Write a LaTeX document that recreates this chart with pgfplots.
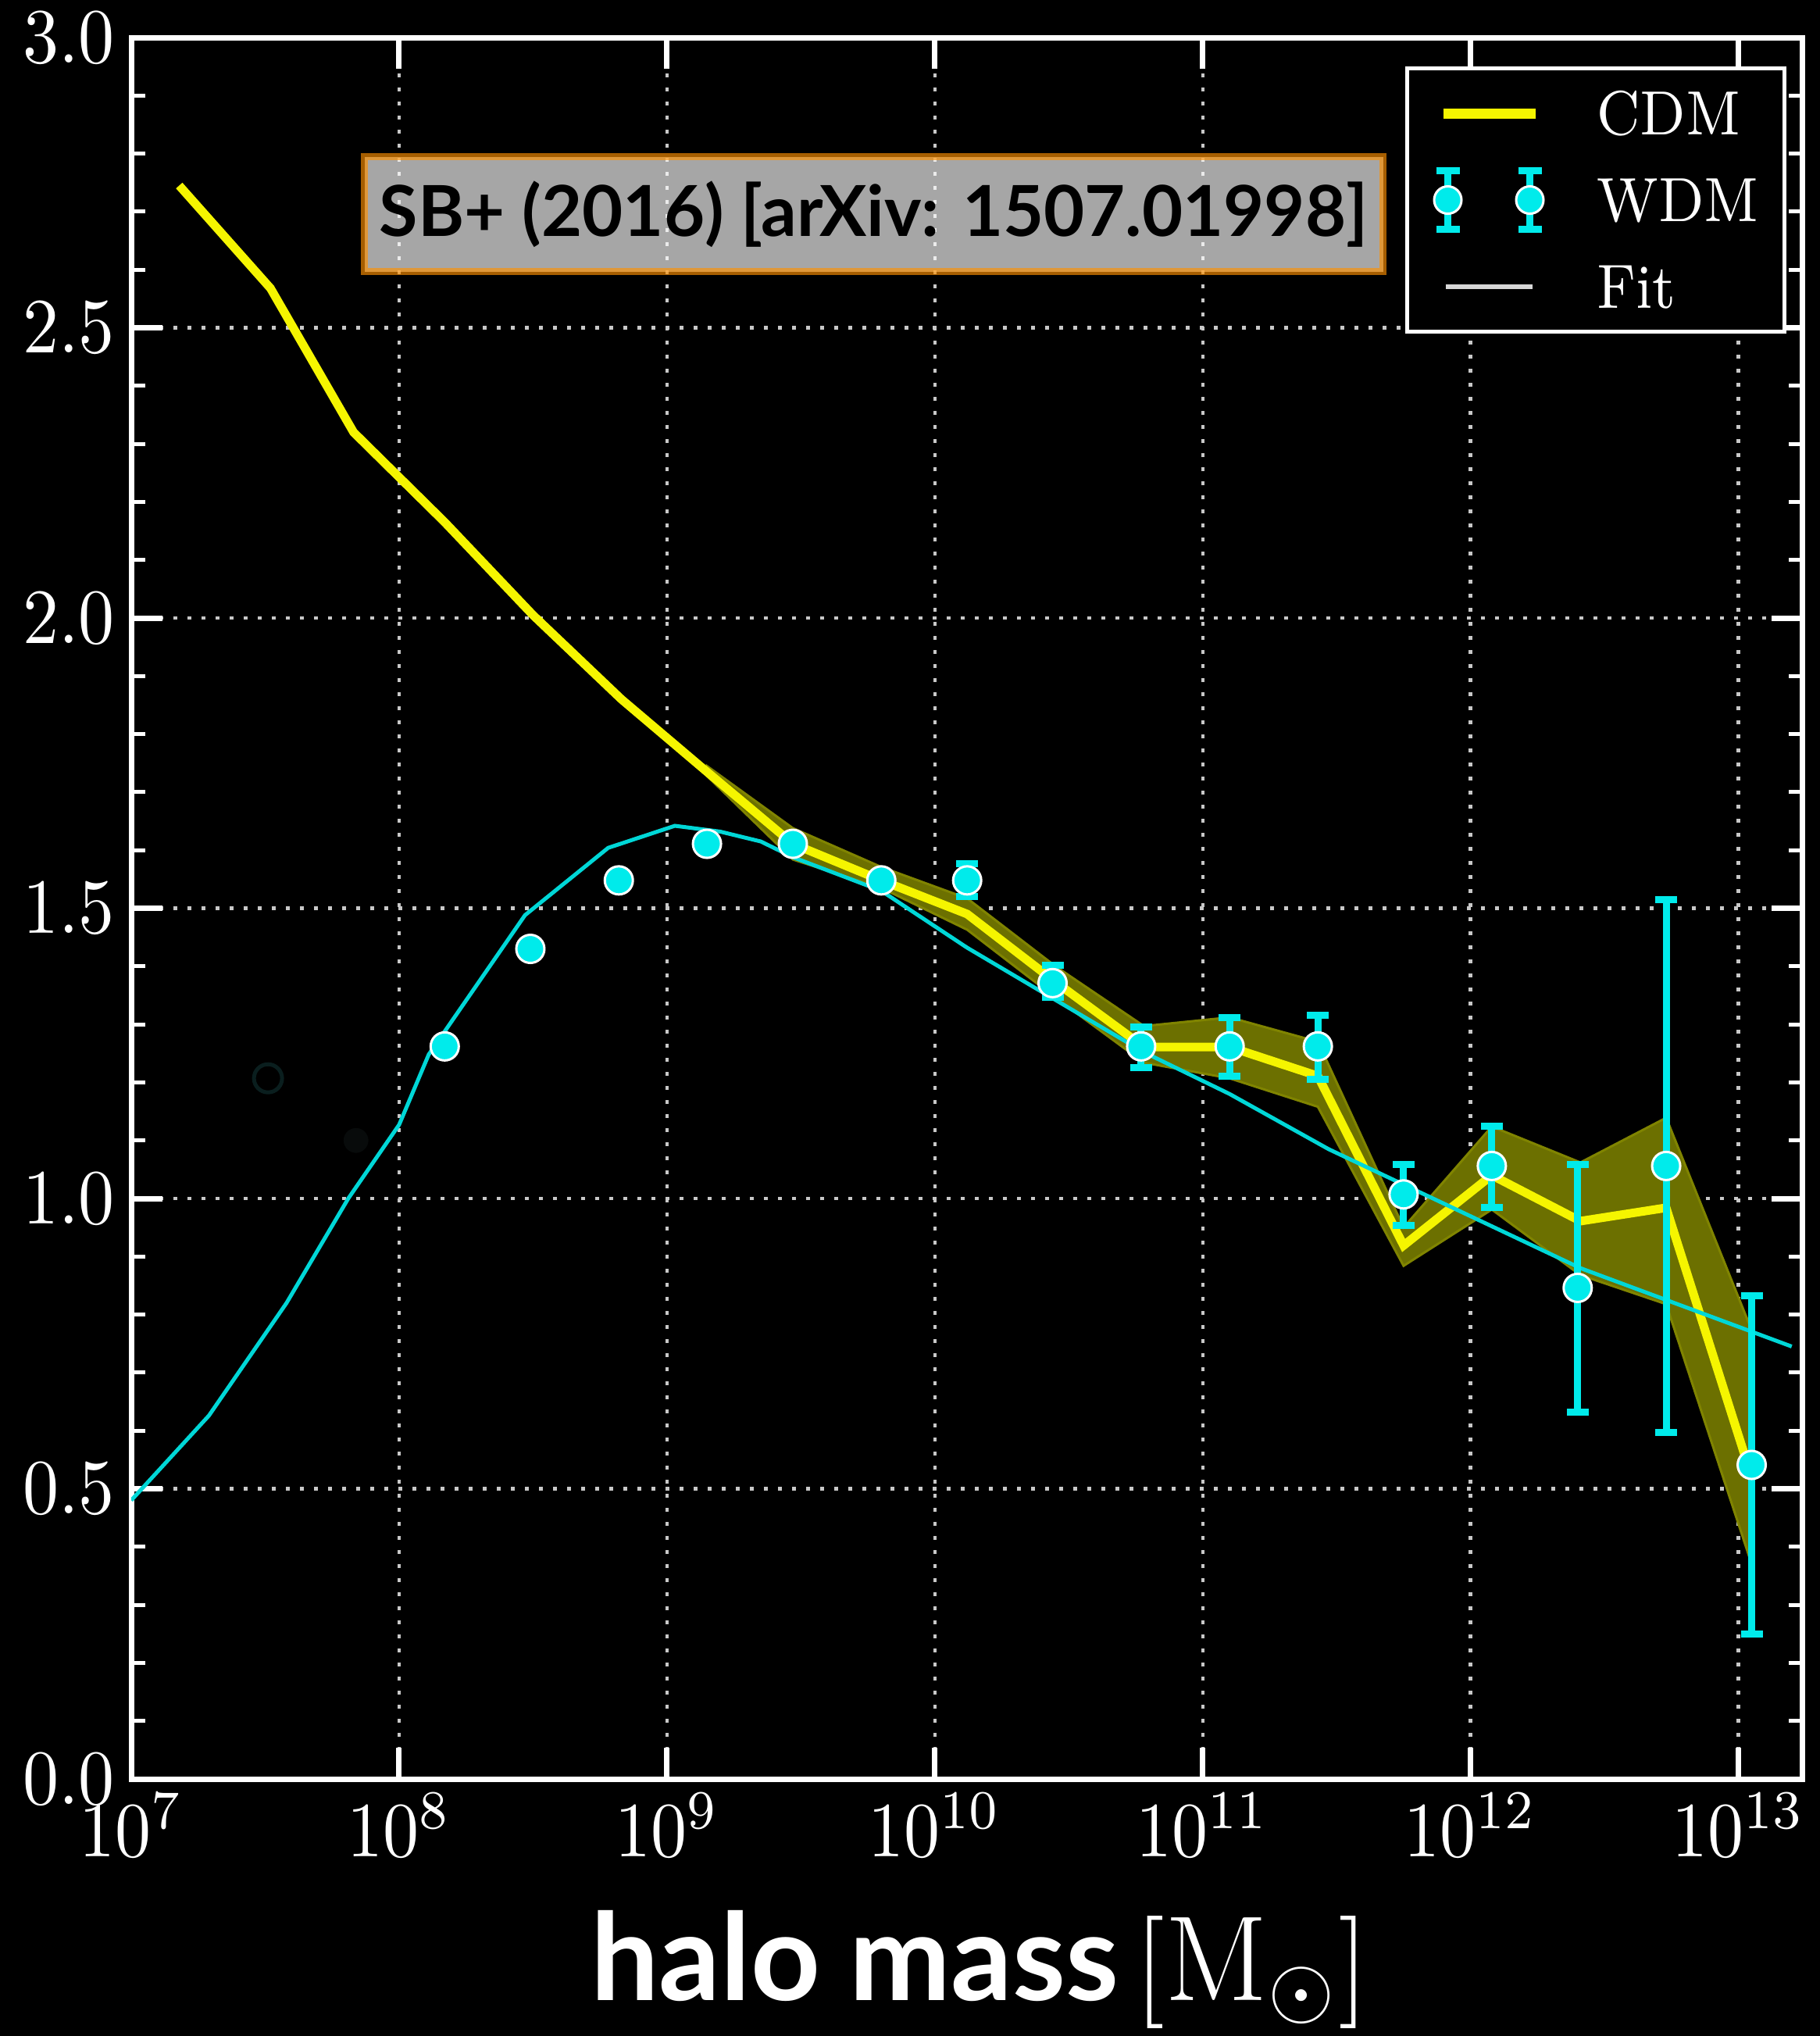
\documentclass[border=0pt]{standalone}
\usepackage{graphicx}
\usepackage{pgfplots}
\pgfplotsset{compat=1.18}
\usepackage{fontspec}
\newfontfamily\latofont{Lato}

\definecolor{cdmyellow}{RGB}{245,245,0}
\definecolor{bandolive}{RGB}{108,112,0}
\definecolor{bandedge}{RGB}{128,132,0}
\definecolor{wdmcyan}{RGB}{0,235,235}
\definecolor{fitcyan}{RGB}{0,215,215}
\definecolor{boxorange}{RGB}{255,145,0}
\definecolor{gridgray}{RGB}{200,200,200}
\definecolor{fitgray}{RGB}{215,215,215}
\definecolor{faintring}{RGB}{10,30,30}
\definecolor{faintdot}{RGB}{8,11,11}

% slightly narrowed lettering for ticks and legend
\newcommand{\narrow}[1]{\scalebox{0.92}[1]{#1}}

\begin{document}
\begin{tikzpicture}
\fill[black] (-16.8pt,-32.9pt) rectangle (216.2pt,227.7pt);
\useasboundingbox (-16.8pt,-32.9pt) rectangle (216.2pt,227.7pt);
\begin{axis}[
  scale only axis,
  width=214pt, height=222.9pt,
  xmode=log, log basis x=10,
  xmin=1e7, xmax=1.738e13,
  ymin=0, ymax=3,
  xtick={1e7,1e8,1e9,1e10,1e11,1e12,1e13},
  ytick={0,0.5,...,3.0},
  minor y tick num=4,
  grid=major,
  major grid style={gridgray, line width=0.45pt, dash pattern=on 0.5pt off 1.3pt},
  axis line style={white, line width=0.7pt},
  major tick style={white, line width=0.7pt},
  minor tick style={white, line width=0.5pt},
  major tick length=4pt,
  minor tick length=1.8pt,
  tick label style={text=white, font=\fontsize{9.6}{11}\selectfont},
  yticklabel style={/pgf/number format/.cd, fixed, fixed zerofill, precision=1, /tikz/.cd, xshift=1.4pt},
  yticklabel={\narrow{$\pgfmathprintnumber{\tick}$}},
  xticklabel={\narrow{$10^{\pgfmathprintnumber{\tick}}$}},
  xticklabel style={yshift=1.7pt},
  xlabel={{\latofont\bfseries halo mass}\hspace{2pt}$[\mathrm{M}_{\odot}]$},
  xlabel style={at={(rel axis cs:0.5077,0)}, anchor=base, yshift=-28.3pt,
    text=white, inner sep=0pt, font=\fontsize{15.5}{18}\selectfont},
  legend style={
    at={(rel axis cs:0.9902,0.9834)}, anchor=north east,
    fill=black, draw=white, line width=0.5pt,
    text=white, font=\fontsize{8}{9}\selectfont,
    inner xsep=3.3pt, inner ysep=3pt,
    row sep=4.15pt,
    nodes={inner sep=0pt, text height=5.5pt, text depth=0pt},
    /tikz/every odd column/.append style={column sep=6.65pt},
  },
  legend cell align=left,
]

% CDM scatter band
\addplot[fill=bandolive, draw=bandedge, line width=0.3pt, forget plot] coordinates {
  (1.41e9,1.745) (2.95e9,1.638) (6.31e9,1.571) (1.32e10,1.517) (2.82e10,1.400)
  (6.03e10,1.297) (1.26e11,1.312) (2.69e11,1.270) (5.62e11,0.950) (1.20e12,1.124)
  (2.57e12,1.062) (5.37e12,1.139) (1.12e13,0.773)
  (1.12e13,0.370) (5.37e12,0.818) (2.57e12,0.868) (1.20e12,0.981) (5.62e11,0.884)
  (2.69e11,1.158) (1.26e11,1.207) (6.03e10,1.234) (2.82e10,1.346) (1.32e10,1.463)
  (6.31e9,1.535) (2.95e9,1.584) (1.41e9,1.728)
} -- cycle;

% CDM
\addplot[cdmyellow, line width=1.1pt, forget plot] coordinates {
  (1.51e7,2.745) (3.31e7,2.568) (6.76e7,2.320) (1.48e8,2.165) (3.16e8,2.005)
  (6.76e8,1.860) (1.41e9,1.735) (2.95e9,1.611) (6.31e9,1.548) (1.32e10,1.490)
  (2.82e10,1.373) (6.03e10,1.261) (1.26e11,1.261) (2.69e11,1.211) (5.62e11,0.919)
  (1.20e12,1.040) (2.57e12,0.961) (5.37e12,0.984) (1.12e13,0.520)
};

% Fit
\addplot[fitcyan, line width=0.5pt, forget plot] coordinates {
  (1e7,0.480) (1.95e7,0.626) (3.80e7,0.820) (6.46e7,1.000) (1e8,1.127)
  (1.29e8,1.248) (2.95e8,1.488) (6.03e8,1.604) (1.07e9,1.642) (1.58e9,1.632)
  (2.24e9,1.615) (2.95e9,1.588) (6.31e9,1.530) (1.32e10,1.432) (2.82e10,1.342)
  (6.03e10,1.252) (1.26e11,1.180) (2.95e11,1.085) (2.57e12,0.880) (1.58e13,0.745)
};

% WDM points below the resolution limit
\addplot[only marks, forget plot, mark=*, mark size=1.8pt,
  mark options={fill=black, draw=faintring, line width=0.5pt}] coordinates {(3.24e7,1.207)};
\addplot[only marks, forget plot, mark=*, mark size=1.8pt,
  mark options={fill=faintdot, draw=none}] coordinates {(6.9e7,1.100)};

% WDM
\addplot[forget plot, only marks, mark=*, mark size=1.8pt,
  mark options={fill=wdmcyan, draw=white, line width=0.3pt},
  error bars/.cd, y dir=both, y explicit,
  error bar style={wdmcyan, line width=0.9pt},
  error mark options={rotate=90, wdmcyan, line width=0.9pt, mark size=1.4pt}
] table[x=m, y=v, y error plus=ep, y error minus=em] {
m        v      ep     em
1.48e8   1.262  0      0
3.09e8   1.430  0      0
6.61e8   1.548  0      0
1.41e9   1.611  0      0
2.95e9   1.611  0      0
6.31e9   1.548  0      0
1.32e10  1.548  0.029  0.028
2.75e10  1.371  0.031  0.025
5.89e10  1.262  0.033  0.037
1.26e11  1.262  0.049  0.052
2.69e11  1.262  0.053  0.057
5.62e11  1.007  0.051  0.054
1.20e12  1.056  0.068  0.072
2.51e12  0.846  0.212  0.214
5.37e12  1.056  0.459  0.459
1.12e13  0.541  0.292  0.291
};

\addlegendimage{legend image code/.code={
  \draw[cdmyellow, line width=1.3pt] (0pt,0pt) -- (11.8pt,0pt);}}
\addlegendentry{\scalebox{0.9}[1]{CDM}}
\addlegendimage{legend image code/.code={
  \draw[wdmcyan, line width=0.9pt]
    (0.6pt,-3.75pt) -- (0.6pt,3.75pt) (-0.9pt,3.75pt) -- (2.1pt,3.75pt) (-0.9pt,-3.75pt) -- (2.1pt,-3.75pt)
    (11.1pt,-3.75pt) -- (11.1pt,3.75pt) (9.6pt,3.75pt) -- (12.6pt,3.75pt) (9.6pt,-3.75pt) -- (12.6pt,-3.75pt);
  \filldraw[fill=wdmcyan, draw=white, line width=0.3pt] (0.6pt,0pt) circle (1.75pt) (11.1pt,0pt) circle (1.75pt);}}
\addlegendentry{\scalebox{0.9}[1]{WDM}}
\addlegendimage{legend image code/.code={
  \draw[fitgray, line width=0.6pt] (0.3pt,0pt) -- (11.4pt,0pt);}}
\addlegendentry{\scalebox{0.9}[1]{Fit}}

\node[fill=white, draw=boxorange, line width=0.9pt, opacity=0.65, text opacity=1,
  minimum width=130.4pt, minimum height=14.7pt, inner sep=0pt, text=black,
  font=\latofont\bfseries\fontsize{9}{10}\selectfont]
  at (rel axis cs:0.4442,0.8986) {SB+ (2016) [arXiv: 1507.01998]};
\end{axis}
\end{tikzpicture}
\end{document}
